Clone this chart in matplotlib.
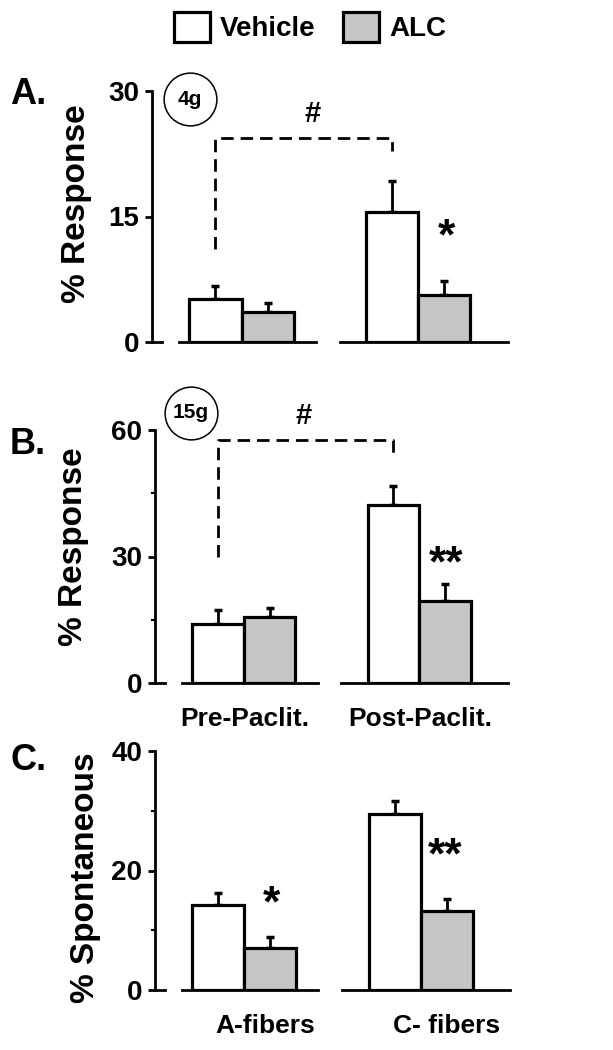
import matplotlib
matplotlib.use('Agg')
import matplotlib.pyplot as plt
from matplotlib.patches import Patch

plt.rcParams['font.family'] = ['Liberation Sans', 'DejaVu Sans']
plt.rcParams['font.weight'] = 'bold'
plt.rcParams['axes.labelweight'] = 'bold'

# data
groups_ab = ['Pre-Paclit.', 'Post-Paclit.']
groups_c = ['A-fibers', 'C- fibers']
series = ['Vehicle', 'ALC']

a_vehicle = [5.1, 15.5]
a_vehicle_err = [1.6, 3.7]
a_alc = [3.6, 5.6]
a_alc_err = [1.1, 1.7]

b_vehicle = [13.9, 42.1]
b_vehicle_err = [3.5, 4.7]
b_alc = [15.7, 19.5]
b_alc_err = [2.2, 3.9]

c_vehicle = [14.2, 29.5]
c_vehicle_err = [2.0, 2.1]
c_alc = [7.1, 13.3]
c_alc_err = [1.7, 2.0]

GRAY = '#c6c6c6'
W, H = 613, 1050

fig = plt.figure(figsize=(W / 100, H / 100), dpi=100)


def add_ax(left, right, top, bottom):
    return fig.add_axes([left / W, 1 - bottom / H, (right - left) / W, (bottom - top) / H])


pos_veh = [0, 3.4]
pos_alc = [1, 4.4]
xlim = (-1.22, 5.66)


def panel(ax, veh, veh_err, alc, alc_err, ymax, major, minor):
    ax.bar(pos_veh, veh, width=1, color='white', edgecolor='black', linewidth=2.3, zorder=3)
    ax.bar(pos_alc, alc, width=1, color=GRAY, edgecolor='black', linewidth=2.3, zorder=3)
    ax.errorbar(pos_veh, veh, yerr=[[0, 0], veh_err], fmt='none', ecolor='black',
                elinewidth=2, capsize=3, capthick=2.5, zorder=2)
    ax.errorbar(pos_alc, alc, yerr=[[0, 0], alc_err], fmt='none', ecolor='black',
                elinewidth=2, capsize=3, capthick=2.5, zorder=2)
    ax.set_xlim(*xlim)
    ax.set_ylim(0, ymax)
    for s in ['top', 'right', 'bottom']:
        ax.spines[s].set_visible(False)
    ax.spines['left'].set_linewidth(2)
    ax.set_yticks(major)
    ax.set_yticks(minor, minor=True)
    ax.tick_params(axis='y', which='major', length=5, width=2, labelsize=20, pad=4)
    ax.tick_params(axis='y', which='minor', length=3, width=1.5)
    ax.set_facecolor('none')
    # broken baselines under each group
    ax.plot([-0.70, 1.93], [0, 0], color='black', lw=2, clip_on=False)
    ax.plot([2.39, 5.63], [0, 0], color='black', lw=2, clip_on=False)
    ax.plot([xlim[0], xlim[0] + 0.2], [0, 0], color='black', lw=2, clip_on=False)


def bracket(ax, y_left, y_top, y_right, hx, hy):
    ax.plot([pos_veh[0], pos_veh[0], pos_veh[1], pos_veh[1]],
            [y_left, y_top, y_top, y_right], color='black', lw=2,
            linestyle=(0, (4.5, 2.5)), clip_on=False)
    ax.text(hx, hy, '#', ha='center', va='center', fontsize=21, clip_on=False)


def ring(ax, x, y, label):
    ax.plot([x], [y], marker='o', markersize=38, markerfacecolor='none',
            markeredgecolor='black', markeredgewidth=1.1, clip_on=False)
    ax.text(x, y, label, ha='center', va='center', fontsize=15)


# Panel A
axA = add_ax(152, 510, 91, 342)
panel(axA, a_vehicle, a_vehicle_err, a_alc, a_alc_err, 30, [0, 15, 30], [])
axA.set_xticks([])
bracket(axA, 11.1, 24.4, 22.8, 1.875, 27.2)
ring(axA, -0.49, 29.0, '4g')
axA.text(4.43, 12.4, '*', ha='center', va='center', fontsize=32)
axA.set_ylabel('% Response', fontsize=24)
axA.yaxis.set_label_coords(-0.168, 0.55)
fig.text(10 / W, 1 - 95 / H, 'A.', fontsize=26, va='center')

# Panel B
axB = add_ax(155, 510, 430, 683)
panel(axB, b_vehicle, b_vehicle_err, b_alc, b_alc_err, 60, [0, 30, 60], [15, 45])
axB.set_xticks([(p + q) / 2 + 0.03 for p, q in zip(pos_veh, pos_alc)])
axB.set_xticklabels(groups_ab)
axB.tick_params(axis='x', length=0, labelsize=19, pad=17)
bracket(axB, 30, 57.6, 53.1, 1.66, 63.4)
ring(axB, -0.53, 64.1, '15g')
axB.text(4.43, 28.0, '**', ha='center', va='center', fontsize=32)
axB.set_ylabel('% Response', fontsize=24)
axB.yaxis.set_label_coords(-0.185, 0.54)
fig.text(10 / W, 1 - 445 / H, 'B.', fontsize=26, va='center')

# Panel C
axC = add_ax(155, 512, 751, 990)
panel(axC, c_vehicle, c_vehicle_err, c_alc, c_alc_err, 40, [0, 20, 40], [10, 30])
axC.set_xticks([0.9, 4.39])
axC.set_xticklabels(groups_c)
axC.tick_params(axis='x', length=0, labelsize=19, pad=17)
axC.text(1.02, 14.3, '*', ha='center', va='center', fontsize=32)
axC.text(4.37, 22.2, '**', ha='center', va='center', fontsize=32)
axC.set_ylabel('% Spontaneous', fontsize=24)
axC.yaxis.set_label_coords(-0.15, 0.47)
fig.text(10 / W, 1 - 760 / H, 'C.', fontsize=26, va='center')

# legend
handles = [Patch(facecolor='white', edgecolor='black', linewidth=2.3),
           Patch(facecolor=GRAY, edgecolor='black', linewidth=2.3)]
fig.legend(handles, series, loc='center', bbox_to_anchor=(310 / W, 1 - 27 / H), ncol=2,
           frameon=False, fontsize=20, handlelength=1.3, handleheight=1.3,
           handletextpad=0.35, columnspacing=1.0, borderpad=0)

fig.savefig('out.png', dpi=100)
